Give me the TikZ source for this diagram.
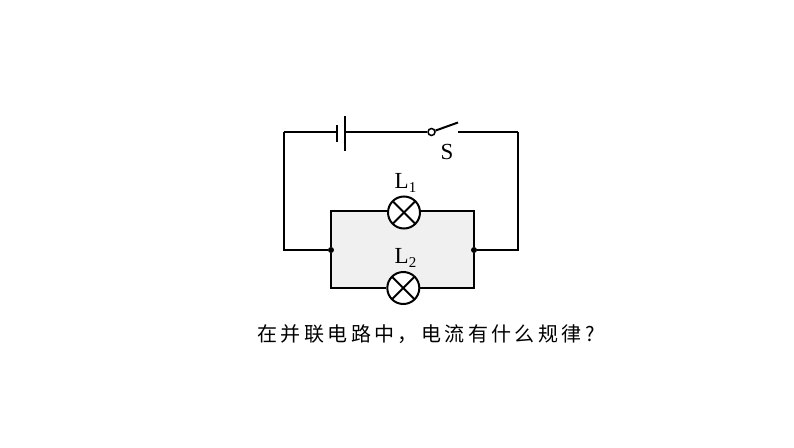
\documentclass[tikz,border=0pt]{standalone}
\usepackage{fontspec}
\setmainfont{Liberation Serif}
\newfontfamily\cjk[LetterSpace=17]{Noto Sans CJK SC}
\newcommand{\lampsub}[1]{\raisebox{-4pt}{\fontsize{15}{15}\selectfont #1}}
\tikzset{
    wire/.style={black, line width=2pt},
    lamp/.style={circle, draw=black, line width=2pt, fill=white, minimum size=32pt, inner sep=0pt,
        path picture={
            \draw[line width=2pt] (path picture bounding box.north west) -- (path picture bounding box.south east);
            \draw[line width=2pt] (path picture bounding box.north east) -- (path picture bounding box.south west);
        }},
    junction/.style={circle, fill=black, minimum size=6pt, inner sep=0pt},
    contact/.style={circle, draw=black, line width=1.5pt, fill=white, minimum size=7pt, inner sep=0pt},
    label/.style={inner sep=0pt, font=\fontsize{23}{23}\selectfont}
}
\begin{document}
\begin{tikzpicture}[x=1pt, y=-1pt]
            \useasboundingbox (0, 0) rectangle (794, 447);
            % parallel part
            \fill[black!6] (331, 210.5) rectangle (474, 288);
            \coordinate (topleft) at (283.5, 132);
            \coordinate (topright) at (518, 132);
            \coordinate (plateA) at (336.5, 132);
            \coordinate (plateB) at (345, 132);
            \coordinate (armend) at (458, 122.5);
            \coordinate (swend) at (458, 132);
            \coordinate (uleft) at (331, 210.5);
            \coordinate (uright) at (474, 210.5);
            \coordinate (dleft) at (331, 288);
            \coordinate (dright) at (474, 288);
            \node[junction] (jleft) at (331, 250) {};
            \node[junction] (jright) at (474, 250) {};
            \node[contact] (swpivot) at (431.5, 132) {};
            \node[lamp] (lampA) at (404, 212.5) {};
            \node[lamp] (lampB) at (403.3, 288) {};
            % battery
            \draw[wire] (topleft) -- (plateA);
            \draw[wire] (336.5, 125) -- (336.5, 142);
            \draw[wire] (345, 116) -- (345, 151);
            \draw[wire] (plateB) -- (swpivot);
            % switch
            \draw[wire] (swpivot) -- (armend);
            \draw[wire] (swend) -- (topright);
            % outer loop
            \draw[wire, line join=miter] (topleft) -- (283.5, 250) -- (jleft);
            \draw[wire] (topright) -- (518, 250) -- (jright);
            % parallel branches
            \draw[wire] (jleft) -- (uleft) -- (lampA.west |- uleft);
            \draw[wire] (lampA.east |- uright) -- (uright) -- (jright);
            \draw[wire] (jleft) -- (dleft) -- (lampB);
            \draw[wire] (lampB) -- (dright) -- (jright);
            % labels
            \node[label] (labS) at (447, 152) {S};
            \node[label] (labA) at (405.5, 183) {L\lampsub{1}};
            \node[label] (labB) at (405.5, 257.5) {L\lampsub{2}};
            \node[inner sep=0pt, font=\fontsize{20}{20}\selectfont] (question) at (426, 334.5) {\cjk 在并联电路中，电流有什么规律?};
        \end{tikzpicture}
\end{document}
